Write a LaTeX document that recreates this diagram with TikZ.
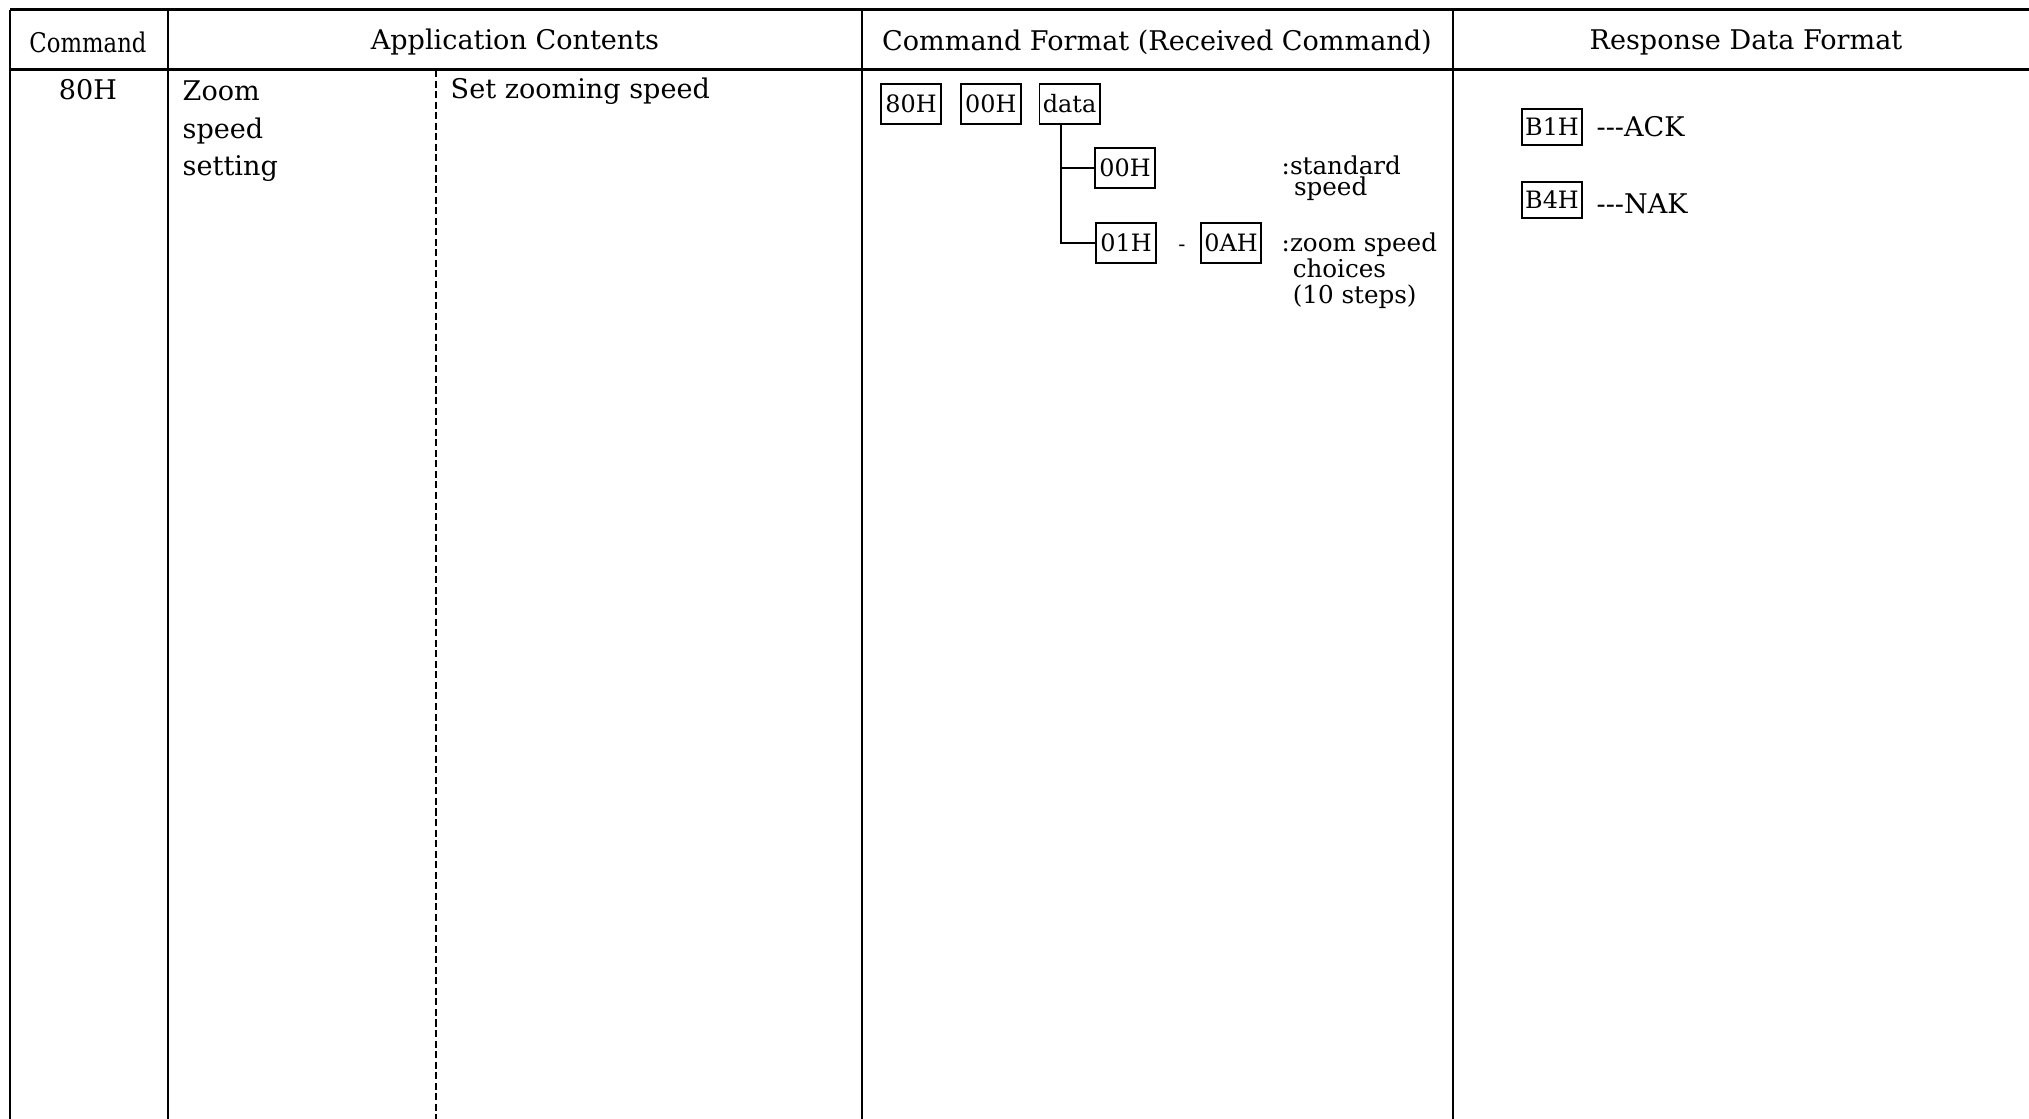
\documentclass[tikz,border=0pt]{standalone}
\usepackage{fontspec}
\setmainfont[Ligatures=TeXOff]{DejaVu Serif}
\newfontfamily\narrowserif[FakeStretch=0.84]{DejaVu Serif}
\usetikzlibrary{positioning}
\tikzstyle{rule} = [line width=0.85pt]
\tikzstyle{sep} = [line width=0.6pt]
\tikzstyle{subsep} = [line width=0.5pt, dash pattern=on 2pt off 1pt]
\tikzstyle{head} = [inner sep=0pt, font=\fontsize{7.7}{9}\selectfont]
\tikzstyle{cell} = [inner sep=0pt, align=left, font=\fontsize{7.7}{10.7}\selectfont]
\tikzstyle{note} = [inner sep=0pt, align=left, font=\fontsize{7.0}{7.4}\selectfont]
\tikzstyle{byte} = [
  rectangle,
  draw=black,
  line width=0.5pt,
  minimum width=0.6cm,
  minimum height=0.4cm,
  inner sep=0.5pt,
  text centered,
  font=\fontsize{6.8}{8}\selectfont
]
\tikzstyle{branch} = [line width=0.6pt]

\begin{document}
\begin{tikzpicture}[x=0.01cm, y=-0.01cm]
    \useasboundingbox (0,0) rectangle (2029,1119);
    % table grid
    \draw [rule] (10,10) -- (2029,10);
    \draw [rule] (10,70) -- (2029,70);
    \foreach \x in {10,168,862,1453}
      \draw [sep] (\x,10) -- (\x,1119);
    \draw [subsep] (436,70) -- (436,1119);

    % header row
    \node (head-cmd) [head, font=\fontsize{7.7}{9}\narrowserif] at (88,42) {Command};
    \node (head-app) [head] at (515,42) {Application Contents};
    \node (head-fmt) [head] at (1157,42) {Command Format (Received Command)};
    \node (head-resp) [head] at (1746,42) {Response Data Format};

    % 80H row
    \node (cmd-code) [cell] at (88,90) {80H};
    \node (app-name) [cell, anchor=north west] at (182,80) {Zoom\\speed\\setting};
    \node (app-text) [cell, anchor=west] at (450,91) {Set zooming speed};

    \node (fmt-cmd) [byte] at (911,104) {80H};
    \node (fmt-sub) [byte, right=0.18cm of fmt-cmd] {00H};
    \node (fmt-data) [byte, right=0.17cm of fmt-sub] {data};
    \node (val-std) [byte] at (1125,168) {00H};
    \node (val-lo) [byte] at (1126,243) {01H};
    \node (val-dash) [inner sep=0pt, font=\fontsize{6}{6}\selectfont] at (1182,248) {-};
    \node (val-hi) [byte] at (1231,243) {0AH};
    \node (std-note) [note, anchor=north west] at (1281,155) {:standard\\[-1.4pt]\hspace{0.5em}speed};
    \node (rng-note) [note, anchor=north west] at (1281,232) {:zoom speed\\\hspace{0.45em}choices\\\hspace{0.45em}(10 steps)};

    \coordinate (fork) at (1061,124);
    \draw [branch] (fork) -- (fork |- val-lo.west) -- (val-lo.west);
    \draw [branch] (fork |- val-std.west) -- (val-std.west);

    \node (ack-code) [byte, minimum height=0.36cm] at (1552,127) {B1H};
    \node (ack-text) [cell, right=0.13cm of ack-code] {---ACK};
    \node (nak-code) [byte, minimum height=0.36cm] at (1552,200) {B4H};
    \node (nak-text) [cell, right=0.13cm of nak-code, yshift=-1pt] {---NAK};
\end{tikzpicture}
\end{document}
